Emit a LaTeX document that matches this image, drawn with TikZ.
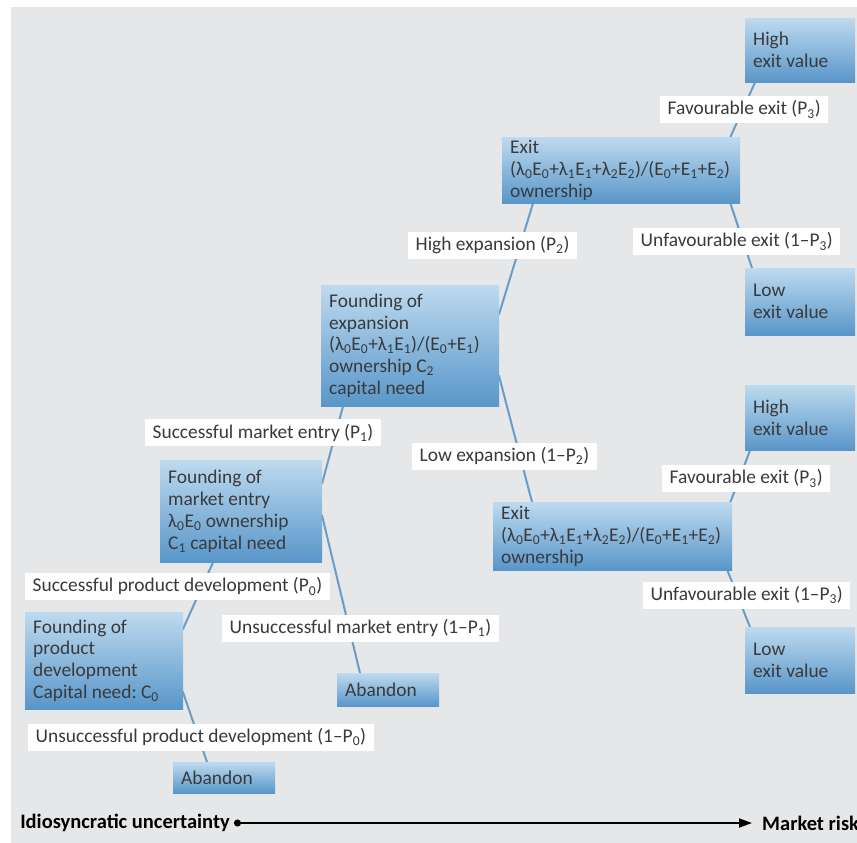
\documentclass[tikz,border=0pt]{standalone}
\usepackage{fontspec}
\setmainfont{Carlito}
\usetikzlibrary{arrows.meta,backgrounds}
\definecolor{bggray}{RGB}{230,231,232}
\definecolor{boxtop}{RGB}{190,218,239}
\definecolor{boxbot}{RGB}{88,150,201}
\definecolor{txt}{RGB}{58,58,60}
\definecolor{connc}{RGB}{104,157,201}
\newcommand\sbs[1]{\textsubscript{#1}}
\frenchspacing
\begin{document}
\begin{tikzpicture}[x=1pt,y=-1pt,
 box/.style={top color=boxtop,bottom color=boxbot,text=txt,align=flush left,inner xsep=8pt,inner ysep=0pt,anchor=north west,font=\fontsize{19.4}{21.8}\selectfont},
 lab/.style={fill=white,text=txt,inner xsep=7.5pt,inner ysep=0pt,minimum height=27pt,anchor=west,font=\fontsize{19.4}{21.8}\selectfont},
 connector/.style={draw=connc,line width=2pt,shorten <=-2pt,shorten >=-2pt},
 axistitle/.style={text=black,inner sep=0pt,font=\fontsize{20.5}{23}\selectfont\bfseries}]
\useasboundingbox (0,0) rectangle (857,843);
\begin{scope}[on background layer]
\fill[white] (0,0) rectangle (857,843);
\fill[bggray] (11,7) rectangle (857,843);
\end{scope}

% boxes
\node[box,text width=94pt,minimum height=64pt] (hi1) at (745,18) {High\\exit value};
\node[box,text width=222pt,minimum height=66pt] (exit1) at (502,137) {Exit\\(λ\sbs{0}E\sbs{0}+λ\sbs{1}E\sbs{1}+λ\sbs{2}E\sbs{2})/(E\sbs{0}+E\sbs{1}+E\sbs{2})\\ownership};
\node[box,text width=94pt,minimum height=67pt] (lo1) at (745,268) {Low\\exit value};
\node[box,text width=162pt,minimum height=121pt] (exp) at (321,285) {Founding of\\expansion\\(λ\sbs{0}E\sbs{0}+λ\sbs{1}E\sbs{1})/(E\sbs{0}+E\sbs{1})\\ownership C\sbs{2}\\capital need};
\node[box,text width=94pt,minimum height=65pt] (hi2) at (745,385) {High\\exit value};
\node[box,text width=223pt,minimum height=68pt] (exit2) at (493,502) {Exit\\(λ\sbs{0}E\sbs{0}+λ\sbs{1}E\sbs{1}+λ\sbs{2}E\sbs{2})/(E\sbs{0}+E\sbs{1}+E\sbs{2})\\ownership};
\node[box,text width=94pt,minimum height=66pt] (lo2) at (745,627) {Low\\exit value};
\node[box,text width=146pt,minimum height=102pt] (mkt) at (160,460) {Founding of\\market entry\\λ\sbs{0}E\sbs{0} ownership\\C\sbs{1} capital need};
\node[box,text width=86pt,minimum height=33pt] (aban2) at (337,673) {Abandon};
\node[box,text width=142pt,minimum height=97pt] (prod) at (25,612) {Founding of\\product\\development\\Capital need: C\sbs{0}};
\node[box,text width=86pt,minimum height=31pt] (aban1) at (173,762) {Abandon};

% labels
\node[lab] (fav1) at (660,109.5) {Favourable exit (P\sbs{3})};
\node[lab] (unf1) at (633,241.5) {Unfavourable exit (1–P\sbs{3})};
\node[lab] (hiexp) at (408,245) {High expansion (P\sbs{2})};
\node[lab] (loexp) at (412,456) {Low expansion (1–P\sbs{2})};
\node[lab] (fav2) at (662,478.5) {Favourable exit (P\sbs{3})};
\node[lab] (unf2) at (643,595) {Unfavourable exit (1–P\sbs{3})};
\node[lab] (sme) at (145,432.5) {Successful market entry (P\sbs{1})};
\node[lab] (ume) at (222,628) {Unsuccessful market entry (1–P\sbs{1})};
\node[lab] (spd) at (25,586.5) {Successful product development (P\sbs{0})};
\node[lab] (upd) at (28,737) {Unsuccessful product development (1–P\sbs{0})};

% connectors behind
\begin{scope}[on background layer]
\draw[connector] ([xshift=-10pt]exit1.north east) -- ([xshift=10pt]hi1.south west);
\draw[connector] ([xshift=-10pt]exit1.south east) -- ([xshift=7pt]lo1.north west);
\draw[connector] ([yshift=-28pt]exp.north east) -- ([xshift=31pt]exit1.south west);
\draw[connector] ([yshift=29pt]exp.south east) -- ([xshift=39pt]exit2.north west);
\draw[connector] ([xshift=-2pt]exit2.north east) -- ([xshift=5pt]hi2.south west);
\draw[connector] ([xshift=-5pt]exit2.south east) -- ([xshift=5pt]lo2.north west);
\draw[connector] ([yshift=-22pt]mkt.north east) -- ([xshift=22pt]exp.south west);
\draw[connector] ([yshift=-57pt]mkt.north east) -- ([xshift=23pt]aban2.north west);
\draw[connector] ([yshift=-16pt]prod.north east) -- ([xshift=53pt]mkt.south west);
\draw[connector] ([yshift=16pt]prod.south east) -- ([xshift=34pt]aban1.north west);
\end{scope}

% axis
\node[axistitle,anchor=east] (idio) at (230,823) {Idiosyncratic uncertainty};
\node[axistitle,anchor=west] (mrisk) at (762,823) {Market risk};
\draw[line width=1.8pt,{Circle[length=7pt]}-{Triangle[length=13pt,width=9pt]},shorten <=4pt,shorten >=10pt] (idio.east) -- (mrisk.west);
\end{tikzpicture}
\end{document}
